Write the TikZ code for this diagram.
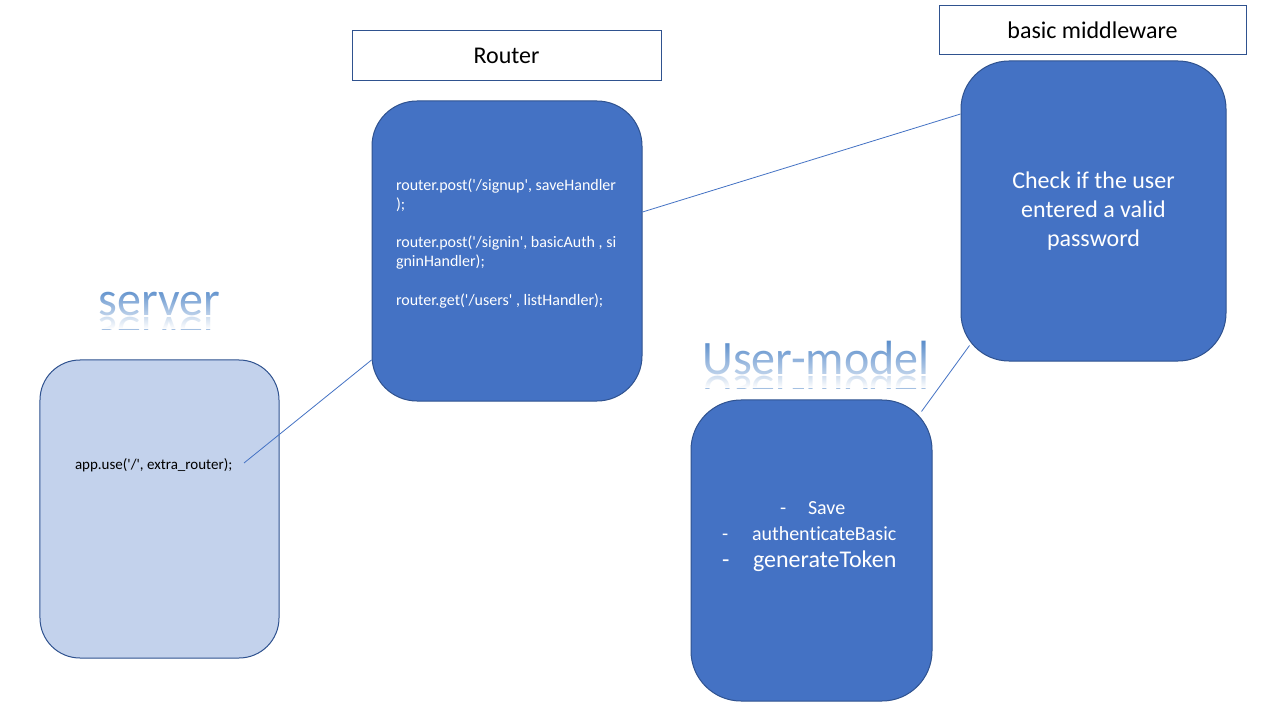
\documentclass[tikz,border=0pt]{standalone}
\usepackage{fontspec}
\setmainfont{Carlito}[Ligatures={TeXOff,NoCommon}]
\usetikzlibrary{calc,fadings}
\definecolor{accent}{HTML}{4472C4}
\definecolor{bdr}{HTML}{2F528F}
\definecolor{lightfill}{HTML}{C3D2EC}
\definecolor{wordart}{HTML}{4A82C6}
\tikzfading[name=wfade, top color=transparent!100, bottom color=transparent!35]
\tikzfading[name=rfade, top color=transparent!55, bottom color=transparent!0]
\newcommand{\fsz}[2]{\fontsize{#1bp}{#2bp}\selectfont}
\begin{document}
\begin{tikzpicture}[x=1bp,y=-1bp,
  bigbox/.style={draw=bdr, line width=1bp, fill=accent, text=white, align=center},
  lightbox/.style={draw=bdr, line width=1bp, fill=lightfill},
  labelbox/.style={draw=bdr, line width=1bp, fill=white, font=\fsz{24}{29}},
  txt/.style={inner sep=0pt, outer sep=0pt},
  wtitle/.style={inner sep=0pt, outer sep=0pt, text=wordart, font=\fsz{48}{58}},
  conn/.style={draw=accent, line width=0.8bp}]
\useasboundingbox (0,0) rectangle (1280,720);
\fill[white] (0,0) rectangle (1280,720);

% WordArt titles with reflection
\node[wtitle, anchor=base] (srvt) at (159.5,315) {server};
\begin{scope}
  \clip (94,316) rectangle (226,329);
  \node[wtitle, anchor=base, yscale=-1, transform shape, opacity=0.5] (srvr) at (159.5,317) {server};
\end{scope}
\fill[white, path fading=wfade] (94,284) rectangle (226,316);
\fill[white, path fading=rfade] (94,316) rectangle (226,329);

\node[wtitle, anchor=base] (umt) at (816,374) {User-model};
\begin{scope}
  \clip (698,375) rectangle (934,388);
  \node[wtitle, anchor=base, yscale=-1, transform shape, opacity=0.5] (umr) at (816,376) {User-model};
\end{scope}
\fill[white, path fading=wfade] (698,335) rectangle (934,375);
\fill[white, path fading=rfade] (698,375) rectangle (934,388);

% boxes
\node[lightbox, minimum width=239bp, minimum height=298bp, rounded corners=40bp] (server) at (159.5,509) {};
\node[labelbox, minimum width=309bp, minimum height=50bp] (routerlbl) at (506.5,56) {Router};
\node[bigbox, minimum width=270bp, minimum height=300bp, rounded corners=45bp] (router) at (507,251) {};
\node[labelbox, minimum width=307bp, minimum height=49bp] (mwlbl) at (1092.5,30.5) {basic middleware};
\node[bigbox, minimum width=265bp, minimum height=300bp, rounded corners=48bp, font=\fsz{24}{29}] (mw) at (1093.5,211)
  {Check if the user\\entered a valid\\password};
\node[bigbox, minimum width=241bp, minimum height=301bp, rounded corners=50bp] (user) at (811.5,550.5) {};

% texts
\node[txt, anchor=base west, font=\fsz{15}{18}] (apptxt) at (75,469) {app.use('/', extra\_router);};
\node[txt, anchor=north west, align=left, text=white, font=\fsz{16}{19.2}] (routertxt) at (396,178.5)
  {router.post('/signup', saveHandler\\);\\[19.2bp]router.post('/signin', basicAuth , si\\gninHandler);\\[19.2bp]router.get('/users' , listHandler);};

\node[txt, anchor=base west, text=white, font=\fsz{20}{24}] (d1) at (780,514) {-};
\node[txt, anchor=base west, text=white, font=\fsz{20}{24}] (i1) at (808,514) {Save};
\node[txt, anchor=base west, text=white, font=\fsz{20}{24}] (d2) at (722,540) {-};
\node[txt, anchor=base west, text=white, font=\fsz{20}{24}] (i2) at (752,540) {authenticateBasic};
\node[txt, anchor=base west, text=white, font=\fsz{24}{29}] (d3) at (722,567) {-};
\node[txt, anchor=base west, text=white, font=\fsz{24}{29}] (i3) at (753,567) {generateToken};

% connectors
\coordinate (append) at (244,463);
\draw[conn] (append) -- ($(router.west)+(0,109)$);
\draw[conn] ($(router.east)+(0,-39)$) -- ($(mw.west)+(0,-97)$);
\draw[conn] ($(mw.south west)+(9,-16)$) -- ($(user.north east)+(-11,12)$);
\end{tikzpicture}
\end{document}
